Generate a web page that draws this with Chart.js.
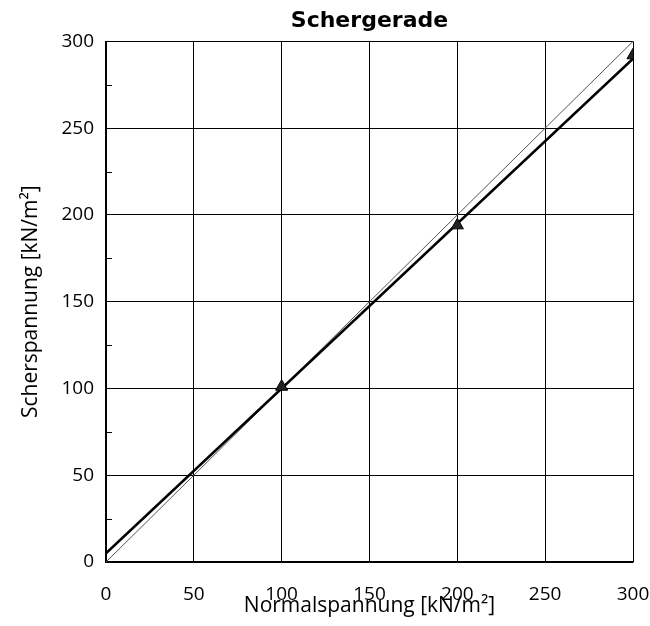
<!DOCTYPE html>
<html>
<head>
<meta charset="utf-8">
<script src="https://cdn.jsdelivr.net/npm/chart.js@4/dist/chart.umd.min.js"></script>
<style>
  html, body { margin: 0; padding: 0; background: #fff; }
  #wrap { width: 650px; height: 626px; }
</style>
</head>
<body>
<div id="wrap"><canvas id="shearChart" width="650" height="626"></canvas></div>
<script>
// Messpunkte (Normalspannung / Scherspannung)
const normalStress = [100, 200, 300];
const shearStress = [101, 194, 292];

// Ausgleichsgerade
const fitX = [0, 300];
const fitY = [5, 290];

// Hilfslinie 1:1
const refX = [0, 300];
const refY = [0, 300];

// Achsen
const axisMin = 0;
const axisMax = 300;
const majorStep = 50;
const minorTicks = [25, 75, 125, 175, 225, 275];

const toPoints = (xs, ys) => xs.map((x, i) => ({ x: x, y: ys[i] }));

// kleine Teilstriche innen an der y-Achse
const minorTickPlugin = {
  id: "minorTicks",
  afterDatasetsDraw(chart) {
    const y = chart.scales.y;
    const left = chart.chartArea.left;
    const c = chart.ctx;
    c.save();
    c.strokeStyle = "#000";
    c.lineWidth = 1;
    minorTicks.forEach((v) => {
      const py = Math.round(y.getPixelForValue(v)) + 0.5;
      c.beginPath();
      c.moveTo(left, py);
      c.lineTo(left + 6, py);
      c.stroke();
    });
    c.restore();
  },
};

const ctx = document.getElementById("shearChart").getContext("2d");
new Chart(ctx, {
  type: "scatter",
  data: {
    datasets: [
      {
        label: "1:1",
        data: toPoints(refX, refY),
        showLine: true,
        borderColor: "#555",
        borderWidth: 1,
        pointRadius: 0,
        order: 3,
      },
      {
        label: "Ausgleichsgerade",
        data: toPoints(fitX, fitY),
        showLine: true,
        borderColor: "#000",
        borderWidth: 2.5,
        pointRadius: 0,
        order: 2,
      },
      {
        label: "Messwerte",
        data: toPoints(normalStress, shearStress),
        pointStyle: "triangle",
        pointRadius: 7,
        backgroundColor: "#222",
        borderColor: "#000",
        borderWidth: 1,
        order: 1,
      },
    ],
  },
  options: {
    responsive: false,
    animation: false,
    layout: { padding: { left: 0, right: 17, top: 0, bottom: 0 } },
    plugins: {
      legend: { display: false },
      tooltip: { enabled: false },
      title: {
        display: true,
        fullSize: false,
        text: "Schergerade",
        color: "#000",
        font: { family: "DejaVu Sans", size: 22, weight: "bold" },
        padding: { top: 8, bottom: 7 },
      },
    },
    scales: {
      x: {
        type: "linear",
        min: axisMin,
        max: axisMax,
        afterFit(scale) {
          scale.height = 64;
          scale.paddingLeft = 0;
          scale.paddingRight = 0;
        },
        ticks: {
          stepSize: majorStep,
          color: "#000",
          padding: 21,
          maxRotation: 0,
          font: { family: "Open Sans", size: 19 },
        },
        grid: { color: "#000", lineWidth: 1, drawTicks: false },
        border: { color: "#000", width: 1.5 },
        title: {
          display: true,
          text: "Normalspannung [kN/m²]",
          color: "#000",
          font: { family: "Open Sans", size: 21 },
          padding: { top: 0, bottom: 7 },
        },
      },
      y: {
        type: "linear",
        min: axisMin,
        max: axisMax,
        afterFit(scale) { scale.width = 106; },
        ticks: {
          stepSize: majorStep,
          color: "#000",
          padding: 12,
          font: { family: "Open Sans", size: 19 },
        },
        grid: { color: "#000", lineWidth: 1, drawTicks: false },
        border: { color: "#000", width: 1.5 },
        title: {
          display: true,
          text: "Scherspannung [kN/m²]",
          color: "#000",
          font: { family: "Open Sans", size: 21 },
          padding: { top: 18, bottom: 0 },
        },
      },
    },
  },
  plugins: [minorTickPlugin],
});
</script>
</body>
</html>
